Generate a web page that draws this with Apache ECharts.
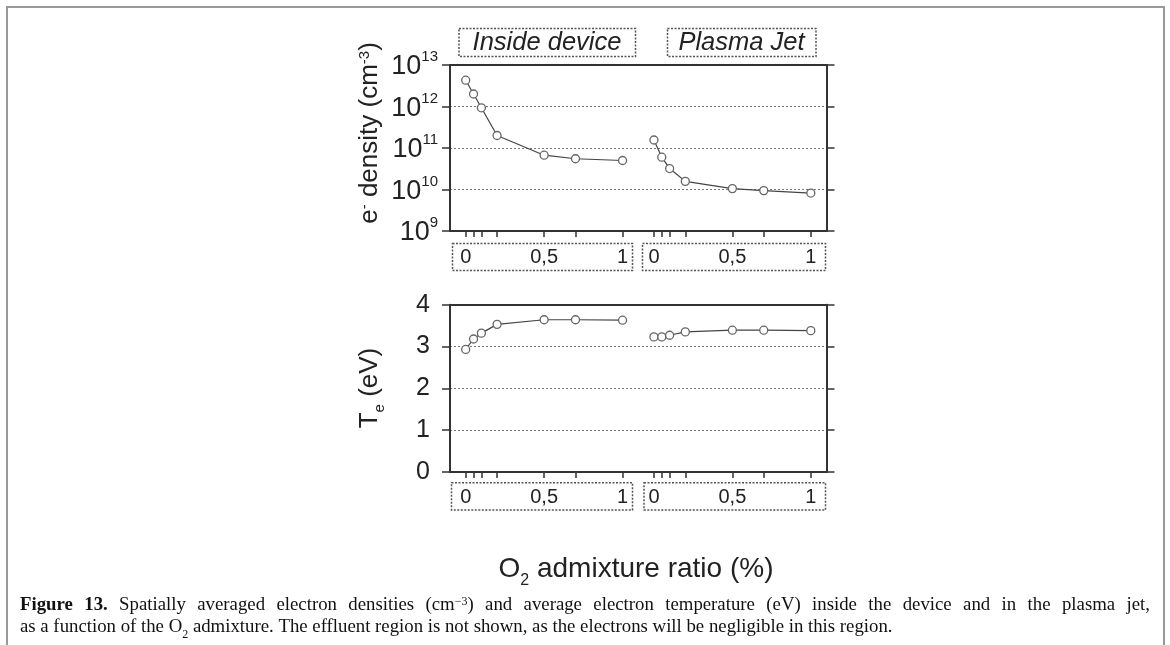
<!DOCTYPE html>
<html>
<head>
<meta charset="utf-8">
<script src="https://cdn.jsdelivr.net/npm/echarts@6.0.0/dist/echarts.min.js"></script>
<style>
  html, body { margin: 0; padding: 0; background: #fff; }
  #chart { width: 1170px; height: 645px; }
</style>
</head>
<body>
<div id="chart"></div>
<script>
// ---- data ----
const xInside = [0, 0.05, 0.1, 0.2, 0.5, 0.7, 1];
const xJet = [0, 0.05, 0.1, 0.2, 0.5, 0.7, 1];
const densityInside = [4.3e12, 2.0e12, 9.3e11, 2.0e11, 6.7e10, 5.5e10, 5.0e10];
const densityJet = [1.56e11, 6.0e10, 3.2e10, 1.57e10, 1.05e10, 9.4e9, 8.2e9];
const teInside = [2.93, 3.18, 3.32, 3.53, 3.64, 3.64, 3.63];
const teJet = [3.23, 3.23, 3.27, 3.35, 3.39, 3.39, 3.38];
const xTickValues = [0, 0.05, 0.1, 0.2, 0.5, 0.7, 1];
const xLabelValues = [0, 0.5, 1];
const xLabelTexts = ['0', '0,5', '1'];
const panelTitles = ['Inside device', 'Plasma Jet'];
const captionLine1 = '{b|Figure} {b|13.} Spatially averaged electron densities (cm{sup|−3}) and average electron temperature (eV) inside the device and in the plasma jet,';
const captionLine2 = 'as a function of the O{sub|2} admixture. The effluent region is not shown, as the electrons will be negligible in this region.';
const jetOffset = 1.2; // jet panel starts 1.2 units to the right on the shared axis

// ---- helpers ----
const tickVals = xTickValues.concat(xTickValues.map(v => +(v + jetOffset).toFixed(4)));
const labelVals = xLabelValues.concat(xLabelValues.map(v => +(v + jetOffset).toFixed(4)));
function xLabelFmt(v) {
  let base = v > 1.1 ? v - jetOffset : v;
  let idx = xLabelValues.findIndex(t => Math.abs(t - base) < 1e-6);
  return idx >= 0 ? xLabelTexts[idx] : '';
}
const pairs = (xs, ys, off) => xs.map((x, i) => [+(x + off).toFixed(4), ys[i]]);

const AX = '#333';
const FONT = '"Liberation Sans", Arial, sans-serif';
const SERIF = '"Liberation Serif", "Times New Roman", serif';
const CAP = 18.8;
const gridLine = { show: true, lineStyle: { color: '#777', width: 1, type: [2, 2] } };

// justify caption line 1 by measuring words
const mctx = document.createElement('canvas').getContext('2d');
const capFonts = { '': CAP + 'px ' + SERIF, b: 'bold ' + CAP + 'px ' + SERIF, sup: '12px ' + SERIF, sub: '12px ' + SERIF };
function measureMarkup(s) {
  let w = 0, re = /\{(\w+)\|([^}]*)\}|([^{]+)/g, m;
  while ((m = re.exec(s))) {
    const key = m[1] || '', txt = m[1] ? m[2] : m[3];
    mctx.font = capFonts[key] || capFonts[''];
    w += mctx.measureText(txt).width;
  }
  return w;
}
const words1 = captionLine1.split(' ');
const wordsW = words1.reduce((a, w) => a + measureMarkup(w), 0);
const capGap = Math.max(2, (1130 - wordsW) / (words1.length - 1));
const justified1 = words1.join('{g| }');

function bottomX(gridIndex, margin) {
  return {
    type: 'value', gridIndex, min: -0.1, max: 2.3, position: 'bottom',
    axisLine: { show: true, onZero: false, lineStyle: { color: AX, width: 2 } },
    axisTick: { show: true, length: 6, customValues: tickVals, lineStyle: { color: AX, width: 1.5 } },
    axisLabel: { show: true, customValues: labelVals, formatter: xLabelFmt, margin,
      fontFamily: FONT, fontSize: 20, color: '#222' },
    splitLine: { show: false }
  };
}
function topX(gridIndex) {
  return {
    type: 'value', gridIndex, min: -0.1, max: 2.3, position: 'top',
    axisLine: { show: true, onZero: false, lineStyle: { color: AX, width: 2 } },
    axisTick: { show: false }, axisLabel: { show: false }, splitLine: { show: false }
  };
}
function sideY(gridIndex, pos, extra) {
  return Object.assign({
    gridIndex, position: pos,
    axisLine: { show: true, onZero: false, lineStyle: { color: AX, width: 2 } },
    axisTick: { show: true, length: 8, lineStyle: { color: AX, width: 1.5 } },
    axisLabel: { show: false }, splitLine: { show: false }
  }, extra);
}

const dashedBox = (x, y, w, h) => ({
  type: 'rect', shape: { x, y, width: w, height: h }, silent: true,
  style: { fill: 'none', stroke: '#555', lineWidth: 1.5, lineDash: [2, 1.5] }
});
const plainText = (x, y, text, size, extra) => ({
  type: 'text', x, y, silent: true,
  style: Object.assign({ text, fontFamily: FONT, fontSize: size, fill: '#222',
    align: 'center', verticalAlign: 'middle' }, extra || {})
});

const chart = echarts.init(document.getElementById('chart'), null, { renderer: 'canvas' });

const option = {
  animation: false,
  backgroundColor: '#fff',
  grid: [
    { left: 450, top: 65, width: 376.5, height: 166, containLabel: false },
    { left: 450, top: 304.7, width: 376.5, height: 167.3, containLabel: false }
  ],
  xAxis: [bottomX(0, 16), topX(0), bottomX(1, 15), topX(1)],
  yAxis: [
    sideY(0, 'left', {
      type: 'log', logBase: 10, min: 1e9, max: 1e13,
      axisLabel: {
        show: true, margin: 12, color: '#222', fontFamily: FONT,
        formatter: v => '{b|10}{s|' + Math.round(Math.log10(v)) + '}',
        rich: {
          b: { fontFamily: FONT, fontSize: 27, lineHeight: 31, verticalAlign: 'bottom', color: '#222' },
          s: { fontFamily: FONT, fontSize: 15, lineHeight: 15, verticalAlign: 'top', color: '#222' }
        }
      },
      splitLine: gridLine
    }),
    sideY(0, 'right', { type: 'log', logBase: 10, min: 1e9, max: 1e13 }),
    sideY(1, 'left', {
      type: 'value', min: 0, max: 4, interval: 1,
      axisLabel: { show: true, margin: 20, color: '#222', fontFamily: FONT, fontSize: 25 },
      splitLine: gridLine
    }),
    sideY(1, 'right', { type: 'value', min: 0, max: 4, interval: 1 })
  ],
  series: [
    { data: pairs(xInside, densityInside, 0), xAxisIndex: 0, yAxisIndex: 0 },
    { data: pairs(xJet, densityJet, jetOffset), xAxisIndex: 0, yAxisIndex: 0 },
    { data: pairs(xInside, teInside, 0), xAxisIndex: 2, yAxisIndex: 2 },
    { data: pairs(xJet, teJet, jetOffset), xAxisIndex: 2, yAxisIndex: 2 }
  ].map(s => Object.assign({
    type: 'line', symbol: 'circle', symbolSize: 8, showSymbol: true,
    lineStyle: { color: '#444', width: 1.2 },
    itemStyle: { color: '#fff', borderColor: '#666', borderWidth: 1.3 },
    z: 5
  }, s)),
  graphic: [
    // page frame
    { type: 'polyline', silent: true,
      shape: { points: [[7, 660], [7, 7], [1164, 7], [1164, 660]] },
      style: { fill: 'none', stroke: '#999', lineWidth: 2 } },
    // panel titles
    dashedBox(459, 28.5, 176.5, 28),
    plainText(547, 42.5, panelTitles[0], 25.5, { fontStyle: 'italic' }),
    dashedBox(667.5, 28.5, 148.5, 28),
    plainText(741.5, 42.5, panelTitles[1], 25.5, { fontStyle: 'italic' }),
    // x label boxes, top panel
    dashedBox(452.5, 243.5, 180, 27),
    dashedBox(642.5, 243.5, 183, 27),
    // x label boxes, bottom panel
    dashedBox(451.5, 482.7, 181, 27.3),
    dashedBox(644, 482.7, 181.5, 27.3),
    // y-axis titles
    { type: 'text', x: 370, y: 133, rotation: Math.PI / 2, silent: true,
      style: { text: 'e{sup|-} density (cm{sup|-3})', fontFamily: FONT, fontSize: 26, fill: '#222',
        align: 'center', verticalAlign: 'middle',
        rich: { sup: { fontFamily: FONT, fontSize: 15, verticalAlign: 'top', lineHeight: 12, fill: '#222' } } } },
    { type: 'text', x: 370, y: 388, rotation: Math.PI / 2, silent: true,
      style: { text: 'T{sub|e} (eV)', fontFamily: FONT, fontSize: 26, fill: '#222',
        align: 'center', verticalAlign: 'middle',
        rich: { sub: { fontFamily: FONT, fontSize: 15, verticalAlign: 'bottom', lineHeight: 34, fill: '#222' } } } },
    // x-axis title
    { type: 'text', x: 636, y: 569, silent: true,
      style: { text: 'O{sub|2} admixture ratio (%)', fontFamily: FONT, fontSize: 28, fill: '#222',
        align: 'center', verticalAlign: 'middle',
        rich: { sub: { fontFamily: FONT, fontSize: 16, verticalAlign: 'bottom', lineHeight: 40, fill: '#222' } } } },
    // caption
    { type: 'text', x: 20, y: 605, silent: true,
      style: { text: justified1, fontFamily: SERIF, fontSize: CAP, fill: '#111',
        align: 'left', verticalAlign: 'middle',
        rich: {
          b: { fontFamily: SERIF, fontWeight: 'bold', fontSize: CAP, fill: '#111' },
          g: { fontFamily: SERIF, fontSize: CAP, width: capGap, fill: '#111' },
          sup: { fontFamily: SERIF, fontSize: 12, verticalAlign: 'top', lineHeight: 12, fill: '#111' }
        } } },
    { type: 'text', x: 20, y: 627, silent: true,
      style: { text: captionLine2, fontFamily: SERIF, fontSize: CAP, fill: '#111',
        align: 'left', verticalAlign: 'middle',
        rich: {
          sub: { fontFamily: SERIF, fontSize: 12, verticalAlign: 'bottom', lineHeight: 28, fill: '#111' }
        } } }
  ]
};
chart.setOption(option);
</script>
</body>
</html>
